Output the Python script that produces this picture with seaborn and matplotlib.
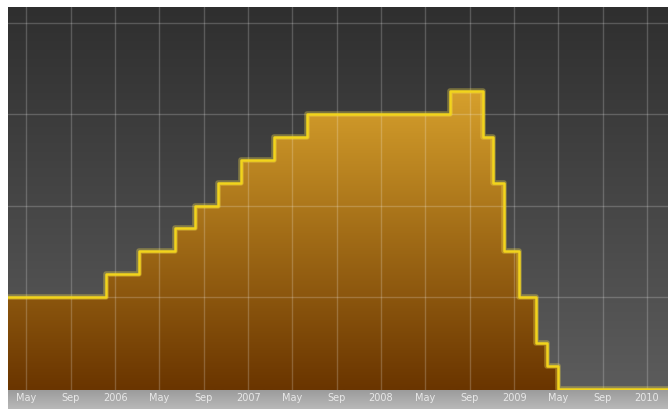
import numpy as np
import pandas as pd
import matplotlib
matplotlib.use("Agg")
import matplotlib.pyplot as plt
import matplotlib.dates as mdates
from matplotlib.colors import LinearSegmentedColormap
import seaborn as sns

# policy rate, date of each change (%)
dates = ["2005-03-12", "2005-12-06", "2006-03-08", "2006-06-15", "2006-08-09",
         "2006-10-11", "2006-12-13", "2007-03-14", "2007-06-13", "2008-07-09",
         "2008-10-08", "2008-11-04", "2008-12-03", "2009-01-15", "2009-03-02",
         "2009-04-02", "2009-05-02", "2010-02-28"]
rates = [2.00, 2.25, 2.50, 2.75, 3.00, 3.25, 3.50, 3.75, 4.00, 4.25,
         3.75, 3.25, 2.50, 2.00, 1.50, 1.25, 1.00, 1.00]

tick_dates = pd.date_range("2005-05-01", "2010-01-01", freq="4MS")
tick_labels = [str(d.year) if d.month == 1 else d.strftime("%b") for d in tick_dates]

df = pd.DataFrame({"date": pd.to_datetime(dates), "rate": rates})

sns.set_theme(style="white")

fig = plt.figure(figsize=(6.7, 4.09), dpi=100)
W, H = 670, 409

# light label strip under the chart
band = fig.add_axes([8 / W, 0, 660 / W, 19 / H])
band.imshow(np.linspace(0, 1, 50).reshape(-1, 1),
            cmap=LinearSegmentedColormap.from_list("b", ["#9c9c9c", "#b8b8b8"]),
            aspect="auto", extent=[0, 1, 0, 1], origin="upper")
band.axis("off")

ax = fig.add_axes([8 / W, 19 / H, 660 / W, 383 / H])
ax.set_zorder(2)

x0 = mdates.date2num(pd.Timestamp("2005-03-12"))
x1 = mdates.date2num(pd.Timestamp("2010-02-28"))
y0, y1 = 0.985, 5.17

# dark background gradient
bg = LinearSegmentedColormap.from_list("bg", ["#2f2f2f", "#5c5c5c"])
ax.imshow(np.linspace(0, 1, 200).reshape(-1, 1), cmap=bg, aspect="auto",
          extent=[x0, x1, y0, y1], origin="upper", zorder=0)

# gold gradient fill under the step line
xs = mdates.date2num(df["date"])
poly = ax.fill_between(xs, df["rate"], y0, step="post", facecolor="none",
                       edgecolor="none")
fg = LinearSegmentedColormap.from_list("fg", ["#d6a02c", "#6a3500"])
im = ax.imshow(np.linspace(0, 1, 200).reshape(-1, 1), cmap=fg, aspect="auto",
               extent=[x0, x1, y0, 4.25], origin="upper", zorder=1)
im.set_clip_path(poly.get_paths()[0], transform=ax.transData)

sns.lineplot(x=xs, y=df["rate"], drawstyle="steps-post", ax=ax,
             color="#f7e04a", lw=4.0, alpha=0.35, zorder=3)
sns.lineplot(x=xs, y=df["rate"], drawstyle="steps-post", ax=ax,
             color="#f2d41c", lw=1.8, zorder=4)

ax.set_xlim(x0, x1)
ax.set_ylim(y0, y1)
ax.set_xticks(mdates.date2num(tick_dates))
ax.set_xticklabels(tick_labels)
ax.set_yticks([2, 3, 4, 5])
ax.set_yticklabels([])
ax.set(xlabel="", ylabel="")
ax.tick_params(axis="x", length=0, pad=2.5, labelsize=7, labelcolor="#e8e8e8")
ax.tick_params(axis="y", length=0)
ax.grid(True, color="white", alpha=0.2, lw=1)
ax.set_axisbelow(False)
for s in ax.spines.values():
    s.set_visible(False)

fig.savefig("out.png", dpi=100)
